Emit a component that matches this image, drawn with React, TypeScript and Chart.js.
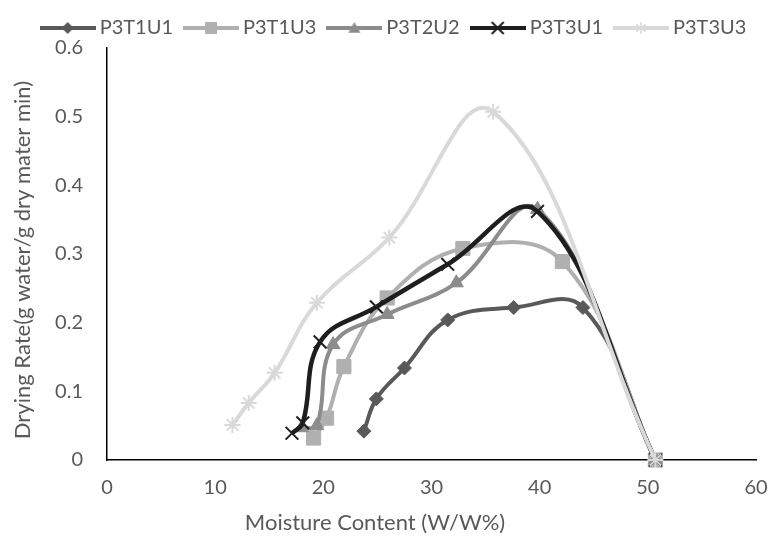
import React, { useEffect, useRef } from "react";
import { Chart, registerables } from "chart.js";

Chart.register(...registerables);

// ---- data ----
const seriesNames = ["P3T1U1", "P3T1U3", "P3T2U2", "P3T3U1", "P3T3U3"];

const xP3T1U1 = [23.75, 24.9, 27.5, 31.5, 37.6, 44.0, 50.7];
const yP3T1U1 = [0.042, 0.089, 0.134, 0.204, 0.222, 0.222, 0];

const xP3T1U3 = [19.1, 20.3, 21.9, 25.9, 32.9, 42.1, 50.7];
const yP3T1U3 = [0.032, 0.061, 0.136, 0.236, 0.308, 0.289, 0];

const xP3T2U2 = [18.0, 19.4, 20.9, 25.9, 32.3, 39.8, 50.7];
const yP3T2U2 = [0.047, 0.05, 0.168, 0.212, 0.258, 0.365, 0];

const xP3T3U1 = [17.1, 18.1, 19.7, 24.9, 31.5, 39.8, 50.7];
const yP3T3U1 = [0.039, 0.054, 0.172, 0.223, 0.285, 0.362, 0];

const xP3T3U3 = [11.6, 13.1, 15.5, 19.4, 26.1, 35.7, 50.7];
const yP3T3U3 = [0.051, 0.083, 0.127, 0.229, 0.324, 0.507, 0];

const xTicks = [0, 10, 20, 30, 40, 50, 60];
const yTicks = [0, 0.1, 0.2, 0.3, 0.4, 0.5, 0.6];

const xTitle = "Moisture Content (W/W%)";
const yTitle = "Drying Rate(g water/g dry mater min)";

// ---- styles ----
const colors = ["#595959", "#B0B0B0", "#8C8C8C", "#1E1E1E", "#D9D9D9"];
const markers = ["rectRot", "rect", "triangle", "crossRot", "star"];
const markerRadius = [7, 10, 8, 9, 8];
const FONT = "Lato, 'Open Sans', sans-serif";
const TEXT = "#595959";

function drawMarker(ctx: CanvasRenderingContext2D, style: string, cx: number, cy: number, r: number, color: string) {
  ctx.fillStyle = color;
  ctx.strokeStyle = color;
  ctx.beginPath();
  if (style === "rectRot") {
    ctx.moveTo(cx, cy - r);
    ctx.lineTo(cx + r, cy);
    ctx.lineTo(cx, cy + r);
    ctx.lineTo(cx - r, cy);
    ctx.closePath();
    ctx.fill();
  } else if (style === "rect") {
    ctx.rect(cx - r, cy - r, 2 * r, 2 * r);
    ctx.fill();
  } else if (style === "triangle") {
    ctx.moveTo(cx, cy - r);
    ctx.lineTo(cx + r, cy + r * 0.8);
    ctx.lineTo(cx - r, cy + r * 0.8);
    ctx.closePath();
    ctx.fill();
  } else if (style === "crossRot") {
    ctx.lineWidth = 2;
    ctx.moveTo(cx - r, cy - r);
    ctx.lineTo(cx + r, cy + r);
    ctx.moveTo(cx + r, cy - r);
    ctx.lineTo(cx - r, cy + r);
    ctx.stroke();
  } else {
    ctx.lineWidth = 1.5;
    ctx.moveTo(cx, cy - r);
    ctx.lineTo(cx, cy + r);
    ctx.moveTo(cx - r * 0.8, cy - r * 0.6);
    ctx.lineTo(cx + r * 0.8, cy + r * 0.6);
    ctx.moveTo(cx + r * 0.8, cy - r * 0.6);
    ctx.lineTo(cx - r * 0.8, cy + r * 0.6);
    ctx.stroke();
  }
}

function legendIcon(i: number): HTMLCanvasElement {
  const c = document.createElement("canvas");
  c.width = 56;
  c.height = 18;
  const ctx = c.getContext("2d")!;
  ctx.strokeStyle = colors[i];
  ctx.lineWidth = 4;
  ctx.beginPath();
  ctx.moveTo(0, 9);
  ctx.lineTo(56, 9);
  ctx.stroke();
  drawMarker(ctx, markers[i], 28, 9, 6, colors[i]);
  return c;
}

// Shifts the axis titles to where the reference centres them (over the whole chart, not the plot area)
const titleShift = {
  id: "titleShift",
  afterLayout(chart: any) {
    const sx = chart.scales.x;
    const sy = chart.scales.y;
    if (sx && !sx.__patched) {
      const orig = sx.drawTitle.bind(sx);
      sx.drawTitle = function () {
        const l = this.left, r = this.right;
        const shift = (0 + chart.width - 20) / 2 - (l + r) / 2;
        this.left = l + shift;
        this.right = r + shift;
        orig();
        this.left = l;
        this.right = r;
      };
      sx.__patched = true;
    }
    if (sy && !sy.__patched) {
      const orig = sy.drawTitle.bind(sy);
      sy.drawTitle = function () {
        const t = this.top, b = this.bottom;
        this.top = t + 6;
        this.bottom = b + 6;
        orig();
        this.top = t;
        this.bottom = b;
      };
      sy.__patched = true;
    }
  },
};

export default function App() {
  const ref = useRef<HTMLCanvasElement | null>(null);

  useEffect(() => {
    if (!ref.current) return;
    const xs = [xP3T1U1, xP3T1U3, xP3T2U2, xP3T3U1, xP3T3U3];
    const ys = [yP3T1U1, yP3T1U3, yP3T2U2, yP3T3U1, yP3T3U3];
    const icons = seriesNames.map((_, i) => legendIcon(i));

    const datasets = seriesNames.map((name, i) => ({
      label: name,
      data: xs[i].map((x, k) => ({ x, y: ys[i][k] })),
      showLine: true,
      borderColor: colors[i],
      backgroundColor: colors[i],
      borderWidth: i === 3 ? 4.5 : 4,
      tension: 0.4,
      pointStyle: markers[i],
      pointRadius: markerRadius[i],
      pointHoverRadius: markerRadius[i],
      pointBorderColor: colors[i],
      pointBackgroundColor: colors[i],
      pointBorderWidth: markers[i] === "crossRot" || markers[i] === "star" ? 2 : 1,
      clip: false as any,
      order: seriesNames.length - i,
    }));

    const chart = new Chart(ref.current, {
      type: "scatter",
      data: { datasets },
      plugins: [titleShift],
      options: {
        animation: false,
        responsive: true,
        maintainAspectRatio: false,
        layout: { padding: { left: 22, right: 0, top: 2, bottom: 0 } },
        plugins: {
          tooltip: { enabled: false },
          legend: {
            position: "top",
            labels: {
              usePointStyle: true,
              pointStyleWidth: 44,
              boxHeight: 18,
              padding: 16,
              color: TEXT,
              font: { family: FONT, size: 20 },
              generateLabels: (ch: any) =>
                ch.data.datasets.map((ds: any, i: number) => ({
                  text: ds.label,
                  pointStyle: icons[i],
                  fillStyle: "transparent",
                  strokeStyle: "transparent",
                  lineWidth: 0,
                  hidden: false,
                  datasetIndex: i,
                  fontColor: TEXT,
                })),
            },
          },
        },
        scales: {
          x: {
            type: "linear",
            min: xTicks[0],
            max: xTicks[xTicks.length - 1],
            afterBuildTicks: (s: any) => {
              s.ticks = xTicks.map((v) => ({ value: v }));
            },
            grid: { display: false, drawTicks: false },
            border: { display: true, color: "#000000", width: 1.5 },
            ticks: { color: TEXT, font: { family: FONT, size: 20 }, padding: 16, maxRotation: 0 },
            title: {
              display: true,
              text: xTitle,
              color: TEXT,
              font: { family: FONT, size: 22 },
              padding: { top: 4, bottom: 11 },
            },
            afterFit: (s: any) => {
              s.height = 87;
              s.paddingRight = 14;
              s.paddingLeft = 0;
            },
          },
          y: {
            type: "linear",
            min: yTicks[0],
            max: yTicks[yTicks.length - 1],
            afterBuildTicks: (s: any) => {
              s.ticks = yTicks.map((v) => ({ value: v }));
            },
            grid: { display: false, drawTicks: false },
            border: { display: true, color: "#000000", width: 1.5 },
            ticks: { color: TEXT, font: { family: FONT, size: 20 }, padding: 24 },
            title: {
              display: true,
              text: yTitle,
              color: TEXT,
              font: { family: FONT, size: 22 },
              padding: { top: -12, bottom: 4 },
            },
            afterFit: (s: any) => {
              s.width = 85;
            },
          },
        },
      },
    });
    return () => chart.destroy();
  }, []);

  return (
    <div style={{ position: "absolute", left: 0, top: 0, width: 770, height: 547, background: "#ffffff" }}>
      <canvas ref={ref} />
    </div>
  );
}
